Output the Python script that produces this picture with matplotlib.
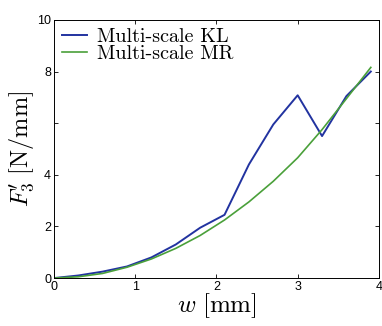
import matplotlib
matplotlib.use("Agg")
import matplotlib.pyplot as plt

# data
w = [0, 0.3, 0.6, 0.9, 1.2, 1.5, 1.8, 2.1, 2.4, 2.7, 3.0, 3.3, 3.6, 3.9]
f_kl = [0, 0.1, 0.25, 0.45, 0.8, 1.3, 1.95, 2.45, 4.4, 5.95, 7.08, 5.5, 7.05, 8.0]
f_mr = [0, 0.05, 0.18, 0.42, 0.74, 1.15, 1.65, 2.25, 2.95, 3.75, 4.66, 5.75, 6.95, 8.16]
labels = ["Multi-scale KL", "Multi-scale MR"]
xticks = [0, 1, 2, 3, 4]
yticks = [0, 2, 4, 6, 8, 10]
yticklabels = ["0", "2", "4", "", "8", "10"]

plt.rcParams["mathtext.fontset"] = "cm"
plt.rcParams["font.family"] = "Liberation Sans"

fig = plt.figure(figsize=(3.82, 3.26), dpi=100)
ax = fig.add_axes([0.141, 0.147, 0.851, 0.792])

ax.plot(w, f_kl, color="#2233a0", lw=1.4, label=labels[0])
ax.plot(w, f_mr, color="#4aa03a", lw=1.2, label=labels[1])

ax.set_xlim(0, 4)
ax.set_ylim(0, 10)
ax.set_xticks(xticks)
ax.set_yticks(yticks)
ax.set_yticklabels(yticklabels)
ax.tick_params(direction="in", top=True, right=True, length=3, width=0.6,
               labelsize=9, pad=2)
for s in ax.spines.values():
    s.set_linewidth(0.7)

ax.set_xlabel(r"$w\ [\mathrm{mm}]$", fontsize=18, labelpad=-1)
ax.set_ylabel(r"$F_3'\ [\mathrm{N/mm}]$", fontsize=17.5, labelpad=0)

ax.legend(loc="upper left", prop={"family": "cmr10", "size": 14.5},
          frameon=False, handlelength=1.25, handletextpad=0.5,
          labelspacing=-0.05, borderaxespad=0.3, borderpad=0.1)

fig.savefig("out.png", dpi=100)
